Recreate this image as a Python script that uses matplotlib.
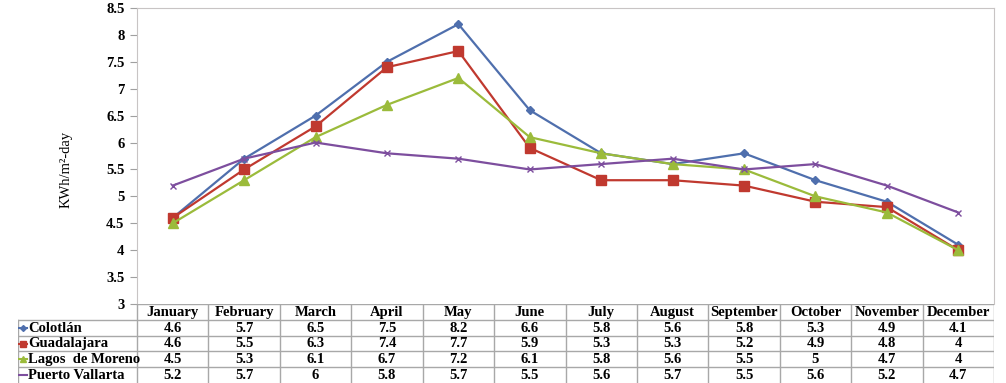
import matplotlib
matplotlib.use('Agg')
import matplotlib.pyplot as plt

months = ['January', 'February', 'March', 'April', 'May', 'June', 'July',
          'August', 'September', 'October', 'November', 'December']
colotlan = [4.6, 5.7, 6.5, 7.5, 8.2, 6.6, 5.8, 5.6, 5.8, 5.3, 4.9, 4.1]
guadalajara = [4.6, 5.5, 6.3, 7.4, 7.7, 5.9, 5.3, 5.3, 5.2, 4.9, 4.8, 4]
lagos = [4.5, 5.3, 6.1, 6.7, 7.2, 6.1, 5.8, 5.6, 5.5, 5, 4.7, 4]
vallarta = [5.2, 5.7, 6, 5.8, 5.7, 5.5, 5.6, 5.7, 5.5, 5.6, 5.2, 4.7]
names = ['Colotlán', 'Guadalajara', 'Lagos  de Moreno', 'Puerto Vallarta']
series = [colotlan, guadalajara, lagos, vallarta]

colors = ['#4F6FAD', '#C0392F', '#9BBB3B', '#7D4E9E']
markers = ['D', 's', '^', 'x']
msizes = [4.5, 6.5, 6.5, 5]

plt.rcParams['font.family'] = ['Liberation Serif', 'DejaVu Serif']

W, H = 1006, 383
fig = plt.figure(figsize=(W / 100, H / 100), dpi=100)

# plot area in pixels
L, R, T, B = 137, 994, 8, 304
ax = fig.add_axes([L / W, 1 - B / H, (R - L) / W, (B - T) / H])
x = list(range(len(months)))
for vals, c, m, ms in zip(series, colors, markers, msizes):
    ax.plot(x, vals, color=c, lw=1.6, marker=m, ms=ms, mec=c, mfc=c, mew=1.0)

ax.set_xlim(-0.5, 11.5)
ax.set_ylim(3, 8.5)
ax.set_yticks([3 + 0.5 * i for i in range(12)])
ax.set_yticklabels(['%g' % (3 + 0.5 * i) for i in range(12)],
                   fontweight='bold', fontsize=10.5)
ax.tick_params(axis='y', length=5, color='#a0a0a0', pad=4)
ax.set_xticks([])
for s in ['left', 'top', 'right']:
    ax.spines[s].set_color('#c8c4c4')
ax.spines['bottom'].set_visible(False)
ax.set_ylabel('KWh/m²-day', fontsize=10.5)
ax.yaxis.set_label_coords(-0.0747, 0.456)

# data table below the plot
TB = 383
colw = (R - L) / 12.0
lab0 = L - 119
tax = fig.add_axes([lab0 / W, 0, (R - lab0) / W, (TB - B) / H])
tax.set_xlim(-119 / colw, 12)
tax.set_ylim(5, 0)
tax.axis('off')
gc = '#a8a8a8'
# horizontal lines
tax.plot([0, 12], [0, 0], color=gc, lw=1)
for r in range(1, 5):
    tax.plot([-119 / colw, 12], [r, r], color=gc, lw=1)
# vertical lines
tax.plot([-119 / colw, -119 / colw], [1, 5], color=gc, lw=1)
for cidx in range(13):
    tax.plot([cidx, cidx], [0, 5], color=gc, lw=1)

for i, mname in enumerate(months):
    tax.text(i + 0.5, 0.52, mname, ha='center', va='center',
             fontweight='bold', fontsize=10.5)
for r, (nm, vals, c, m) in enumerate(zip(names, series, colors, markers)):
    yy = r + 1.5
    kx0 = -119 / colw + 1 / colw
    kx1 = -119 / colw + 9 / colw
    tax.plot([kx0, kx1], [yy, yy], color=c, lw=1.5)
    if m != 'x':
        tax.plot([(kx0 + kx1) / 2], [yy], marker=m, color=c, ms=4 if m != 'D' else 3)
    tax.text(-119 / colw + 10 / colw, yy + 0.02, nm, ha='left', va='center',
             fontweight='bold', fontsize=10.5)
    for i, v in enumerate(vals):
        tax.text(i + 0.5, yy + 0.02, '%g' % v, ha='center', va='center',
                 fontweight='bold', fontsize=10.5)

fig.savefig('out.png', dpi=100)
